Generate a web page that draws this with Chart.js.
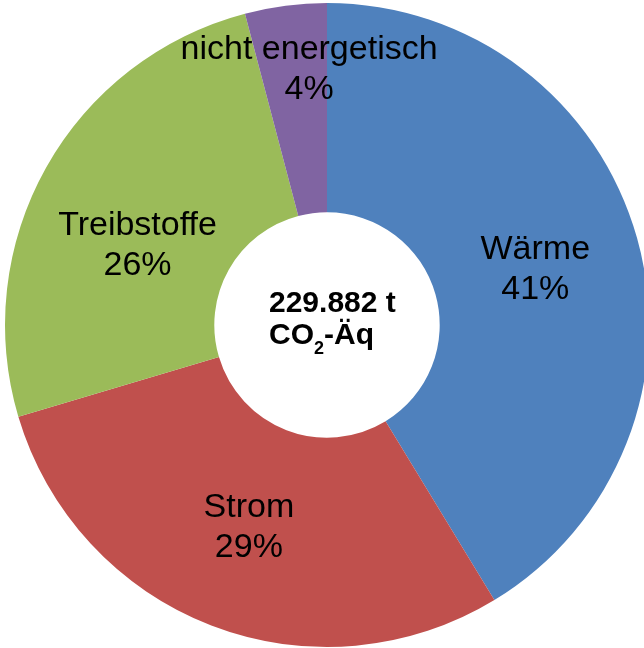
<!DOCTYPE html>
<html>
<head>
<meta charset="utf-8">
<script src="https://cdn.jsdelivr.net/npm/chart.js@4/dist/chart.umd.min.js"></script>
<style>
    html, body { margin: 0; padding: 0; background: #fff; }
    #wrap { width: 644px; height: 648px; position: relative; }
</style>
</head>
<body>
<div id="wrap"><canvas id="co2Chart"></canvas></div>
<script>
// Werte (Anteile in %)
const kategorien = ['Wärme', 'Strom', 'Treibstoffe', 'nicht energetisch'];
const anteile = [41.3, 29.1, 25.5, 4.1];
const prozentLabels = ['41%', '29%', '26%', '4%'];
const gesamtWert = '229.882 t';

const farben = ['#4F81BD', '#C0504D', '#9BBB59', '#8064A2'];
// Verschiebung der Beschriftung gegenüber der Segmentmitte (manuell, wie im Original)
const labelVersatz = [[-1, 0], [0, -4], [0, 23], [10, -43]];

const beschriftungPlugin = {
    id: 'beschriftung',
    afterDatasetsDraw(chart) {
        const ctx = chart.ctx;
        const meta = chart.getDatasetMeta(0);
        ctx.save();
        ctx.fillStyle = '#000';
        ctx.textAlign = 'center';
        ctx.textBaseline = 'alphabetic';
        ctx.font = '34px "Liberation Sans", Arial, sans-serif';

        meta.data.forEach((arc, i) => {
            const p = arc.getCenterPoint();
            const x = p.x + labelVersatz[i][0];
            const y = p.y - 7 + labelVersatz[i][1];
            ctx.fillText(kategorien[i], x, y);
            ctx.fillText(prozentLabels[i], x, y + 40);
        });

        // Mitte: Gesamtsumme
        const cx = meta.data[0].x;
        const cy = meta.data[0].y;
        const links = cx - 58;
        ctx.textAlign = 'left';
        ctx.font = 'bold 30px "Liberation Sans", Arial, sans-serif';
        ctx.fillText(gesamtWert, links, cy - 13);

        let xPos = links;
        ctx.fillText('CO', xPos, cy + 19);
        xPos += ctx.measureText('CO').width;
        ctx.font = 'bold 18px "Liberation Sans", Arial, sans-serif';
        ctx.fillText('2', xPos, cy + 29);
        xPos += ctx.measureText('2').width;
        ctx.font = 'bold 30px "Liberation Sans", Arial, sans-serif';
        ctx.fillText('-Äq', xPos, cy + 19);
        ctx.restore();
    }
};

new Chart(document.getElementById('co2Chart'), {
    type: 'doughnut',
    data: {
        labels: kategorien,
        datasets: [{
            data: anteile,
            backgroundColor: farben,
            borderWidth: 0
        }]
    },
    options: {
        responsive: true,
        maintainAspectRatio: false,
        animation: false,
        radius: 322,
        cutout: '35%',
        layout: { padding: { left: 10, top: 2, right: 0, bottom: 0 } },
        plugins: {
            legend: { display: false },
            tooltip: { enabled: false }
        }
    },
    plugins: [beschriftungPlugin]
});
</script>
</body>
</html>
